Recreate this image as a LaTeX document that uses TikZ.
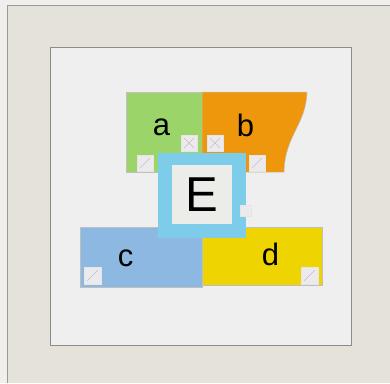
\documentclass[tikz,border=0pt]{standalone}
\usepackage{fontspec}
\setmainfont{Liberation Sans}
\definecolor{bgbeige}{RGB}{229,226,217}
\definecolor{outerwhite}{RGB}{240,239,235}
\definecolor{panelc}{RGB}{238,239,238}
\definecolor{greenc}{RGB}{155,212,105}
\definecolor{orangec}{RGB}{238,150,12}
\definecolor{bluec}{RGB}{140,184,225}
\definecolor{yellowc}{RGB}{238,212,0}
\definecolor{skyc}{RGB}{125,204,234}
\definecolor{innerc}{RGB}{236,236,232}
\definecolor{iconc}{RGB}{236,234,236}
\definecolor{iconline}{RGB}{196,190,205}
\tikzset{
  tile/.style={draw=black!25, line width=0.5pt},
  lab/.style={font=\fontsize{31}{31}\selectfont, anchor=base, inner sep=0pt},
  iconbox/.style={fill=iconc, draw=white!80!gray, line width=0.5pt},
  iconmark/.style={draw=iconline, line width=0.5pt}
}
\newcommand{\slashicon}[3]{%
  \draw[iconbox] (#1,#2) rectangle ++(#3,#3);
  \draw[iconmark] (#1+3,#2+#3-3) -- (#1+#3-3,#2+3);}
\newcommand{\xicon}[3]{%
  \draw[iconbox] (#1,#2) rectangle ++(#3,#3);
  \draw[iconmark] (#1+3,#2+3) -- (#1+#3-3,#2+#3-3) (#1+3,#2+#3-3) -- (#1+#3-3,#2+3);}
\begin{document}
\begin{tikzpicture}[x=1pt,y=-1pt]
\useasboundingbox (0,0) rectangle (390,383);
\fill[outerwhite] (0,0) rectangle (390,383);
\fill[bgbeige] (7,5) rectangle (390,383);
\draw[black!40, line width=0.8pt] (7,383) -- (7,5) -- (390,5);
% panel
\node[draw=black!45, fill=panelc, line width=0.8pt, minimum width=301pt, minimum height=298pt, inner sep=0pt] (panel) at (200.5,196) {};
% tiles
\node[tile, fill=greenc, minimum width=76pt, minimum height=80pt, inner sep=0pt] (A) at (164,132) {};
\draw[tile, fill=orangec] (202,92) -- (307,92) .. controls (306,125) and (285,135) .. (284,172) -- (202,172) -- cycle;
\coordinate (B) at (245,132);
\node[tile, fill=bluec, minimum width=122pt, minimum height=60pt, inner sep=0pt] (C) at (141,257) {};
\node[tile, fill=yellowc, minimum width=120pt, minimum height=58pt, inner sep=0pt] (D) at (262,256) {};
% labels
\node[lab] (la) at (161.5,135.5) {a};
\node[lab] (lb) at (245.5,136.5) {b};
\node[lab] (lc) at (125.5,266.5) {c};
\node[lab] (ld) at (270.5,265.5) {d};
% icons
\slashicon{137}{155}{16}
\xicon{181}{135}{16}
\xicon{207}{135}{16}
\slashicon{249}{155}{16}
\slashicon{84}{267}{17}
\slashicon{301}{267}{17}
% E box
\node[fill=skyc, minimum width=88pt, minimum height=85pt, inner sep=0pt] (Eout) at (202,195.5) {};
\node[fill=innerc, minimum width=60pt, minimum height=59pt, inner sep=0pt] (Ein) at (202,194.5) {};
\node[font=\fontsize{49}{49}\selectfont, inner sep=0pt] (E) at (Ein.center) {E};
\node[iconbox, minimum size=11pt, inner sep=0pt] (sq) at (245.5,210.5) {};
\end{tikzpicture}
\end{document}
